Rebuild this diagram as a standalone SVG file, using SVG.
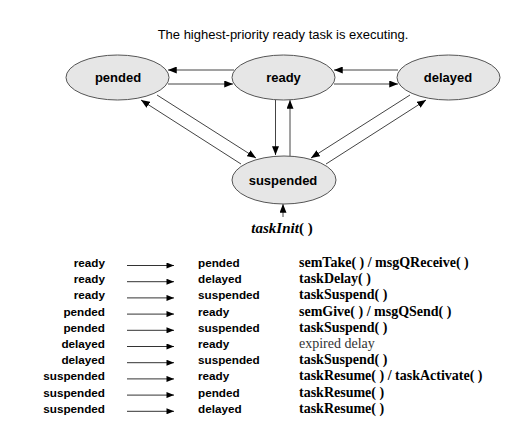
<svg xmlns="http://www.w3.org/2000/svg" width="529" height="445" viewBox="0 0 529 445">
<defs>
<style>
.node ellipse{fill:#e6e6e6;stroke:#555;stroke-width:1}
.lbl{font-family:"Liberation Sans",Arial,sans-serif;font-weight:bold;font-size:13px;fill:#000;text-anchor:middle}
.conn line{stroke:#444;stroke-width:1;marker-end:url(#ah)}
.tbl line{stroke:#333;stroke-width:1;marker-end:url(#ah2)}
.c1{font-family:"Liberation Sans",Arial,sans-serif;font-weight:bold;font-size:11.7px;fill:#000;text-anchor:end}
.c2{font-family:"Liberation Sans",Arial,sans-serif;font-weight:bold;font-size:11.7px;fill:#000}
.c3{font-family:"Liberation Serif","Times New Roman",serif;font-weight:bold;font-size:14px;fill:#000}
.c3n{font-family:"Liberation Serif","Times New Roman",serif;font-size:14px;fill:#333}
</style>
<marker id="ah" viewBox="0 0 10 8" refX="10" refY="4" markerWidth="9" markerHeight="7" markerUnits="userSpaceOnUse" orient="auto">
<path d="M0,0 L10,4 L0,8 Z" fill="#000"/>
</marker>
<marker id="ah2" viewBox="0 0 10 8" refX="10" refY="4" markerWidth="8" markerHeight="6" markerUnits="userSpaceOnUse" orient="auto">
<path d="M0,0 L10,4 L0,8 Z" fill="#000"/>
</marker>
</defs>
<rect width="529" height="445" fill="#fff"/>
<text x="283" y="38.5" font-family="Liberation Sans, Arial, sans-serif" font-size="13" text-anchor="middle" fill="#000">The highest-priority ready task is executing.</text>

<g id="connectors" class="conn">
<line x1="234" y1="70" x2="168" y2="70"/>
<line x1="168" y1="84" x2="233" y2="84"/>
<line x1="398" y1="70" x2="334" y2="70"/>
<line x1="334" y1="84" x2="398" y2="84"/>
<line x1="275.5" y1="100" x2="275.5" y2="155"/>
<line x1="290" y1="156" x2="290" y2="100"/>
<line x1="157" y1="95" x2="256" y2="158"/>
<line x1="241" y1="164" x2="141" y2="100"/>
<line x1="410" y1="95" x2="311" y2="158"/>
<line x1="326" y1="164" x2="426" y2="100"/>
<line x1="283" y1="217" x2="283" y2="204"/>
</g>

<g id="pended" class="node">
<ellipse cx="117.5" cy="77.5" rx="51.5" ry="22.5"/>
<text class="lbl" x="118" y="82">pended</text>
</g>
<g id="ready" class="node">
<ellipse cx="283.5" cy="77.5" rx="51.5" ry="22.5"/>
<text class="lbl" x="283.5" y="82">ready</text>
</g>
<g id="delayed" class="node">
<ellipse cx="448.5" cy="77.5" rx="51.5" ry="22.5"/>
<text class="lbl" x="448" y="82">delayed</text>
</g>
<g id="suspended" class="node">
<ellipse cx="284" cy="180" rx="52" ry="24"/>
<text class="lbl" x="283" y="185">suspended</text>
</g>
<g id="taskInit">
<text x="282" y="233" font-family="Liberation Serif, Times New Roman, serif" font-size="15" font-weight="bold" text-anchor="middle" fill="#000"><tspan font-style="italic">taskInit</tspan>( )</text>
</g>

<g id="table">
<g class="tbl">
<line x1="127" y1="265.5" x2="174" y2="265.5"/>
<line x1="127" y1="281.7" x2="174" y2="281.7"/>
<line x1="127" y1="297.9" x2="174" y2="297.9"/>
<line x1="127" y1="314.1" x2="174" y2="314.1"/>
<line x1="127" y1="330.3" x2="174" y2="330.3"/>
<line x1="127" y1="346.5" x2="174" y2="346.5"/>
<line x1="127" y1="362.7" x2="174" y2="362.7"/>
<line x1="127" y1="378.9" x2="174" y2="378.9"/>
<line x1="127" y1="395.1" x2="174" y2="395.1"/>
<line x1="127" y1="411.3" x2="174" y2="411.3"/>
</g>
<text class="c1" x="105" y="267">ready</text>
<text class="c1" x="105" y="283.2">ready</text>
<text class="c1" x="105" y="299.4">ready</text>
<text class="c1" x="105" y="315.6">pended</text>
<text class="c1" x="105" y="331.8">pended</text>
<text class="c1" x="105" y="348">delayed</text>
<text class="c1" x="105" y="364.2">delayed</text>
<text class="c1" x="105" y="380.4">suspended</text>
<text class="c1" x="105" y="396.6">suspended</text>
<text class="c1" x="105" y="412.8">suspended</text>

<text class="c2" x="198" y="267">pended</text>
<text class="c2" x="198" y="283.2">delayed</text>
<text class="c2" x="198" y="299.4">suspended</text>
<text class="c2" x="198" y="315.6">ready</text>
<text class="c2" x="198" y="331.8">suspended</text>
<text class="c2" x="198" y="348">ready</text>
<text class="c2" x="198" y="364.2">suspended</text>
<text class="c2" x="198" y="380.4">ready</text>
<text class="c2" x="198" y="396.6">pended</text>
<text class="c2" x="198" y="412.8">delayed</text>

<text class="c3" x="299" y="267">semTake( ) / msgQReceive( )</text>
<text class="c3" x="299" y="283.2">taskDelay( )</text>
<text class="c3" x="299" y="299.4">taskSuspend( )</text>
<text class="c3" x="299" y="315.6">semGive( ) / msgQSend( )</text>
<text class="c3" x="299" y="331.8">taskSuspend( )</text>
<text class="c3n" x="299" y="348">expired delay</text>
<text class="c3" x="299" y="364.2">taskSuspend( )</text>
<text class="c3" x="299" y="380.4">taskResume( ) / taskActivate( )</text>
<text class="c3" x="299" y="396.6">taskResume( )</text>
<text class="c3" x="299" y="412.8">taskResume( )</text>
</g>
</svg>
